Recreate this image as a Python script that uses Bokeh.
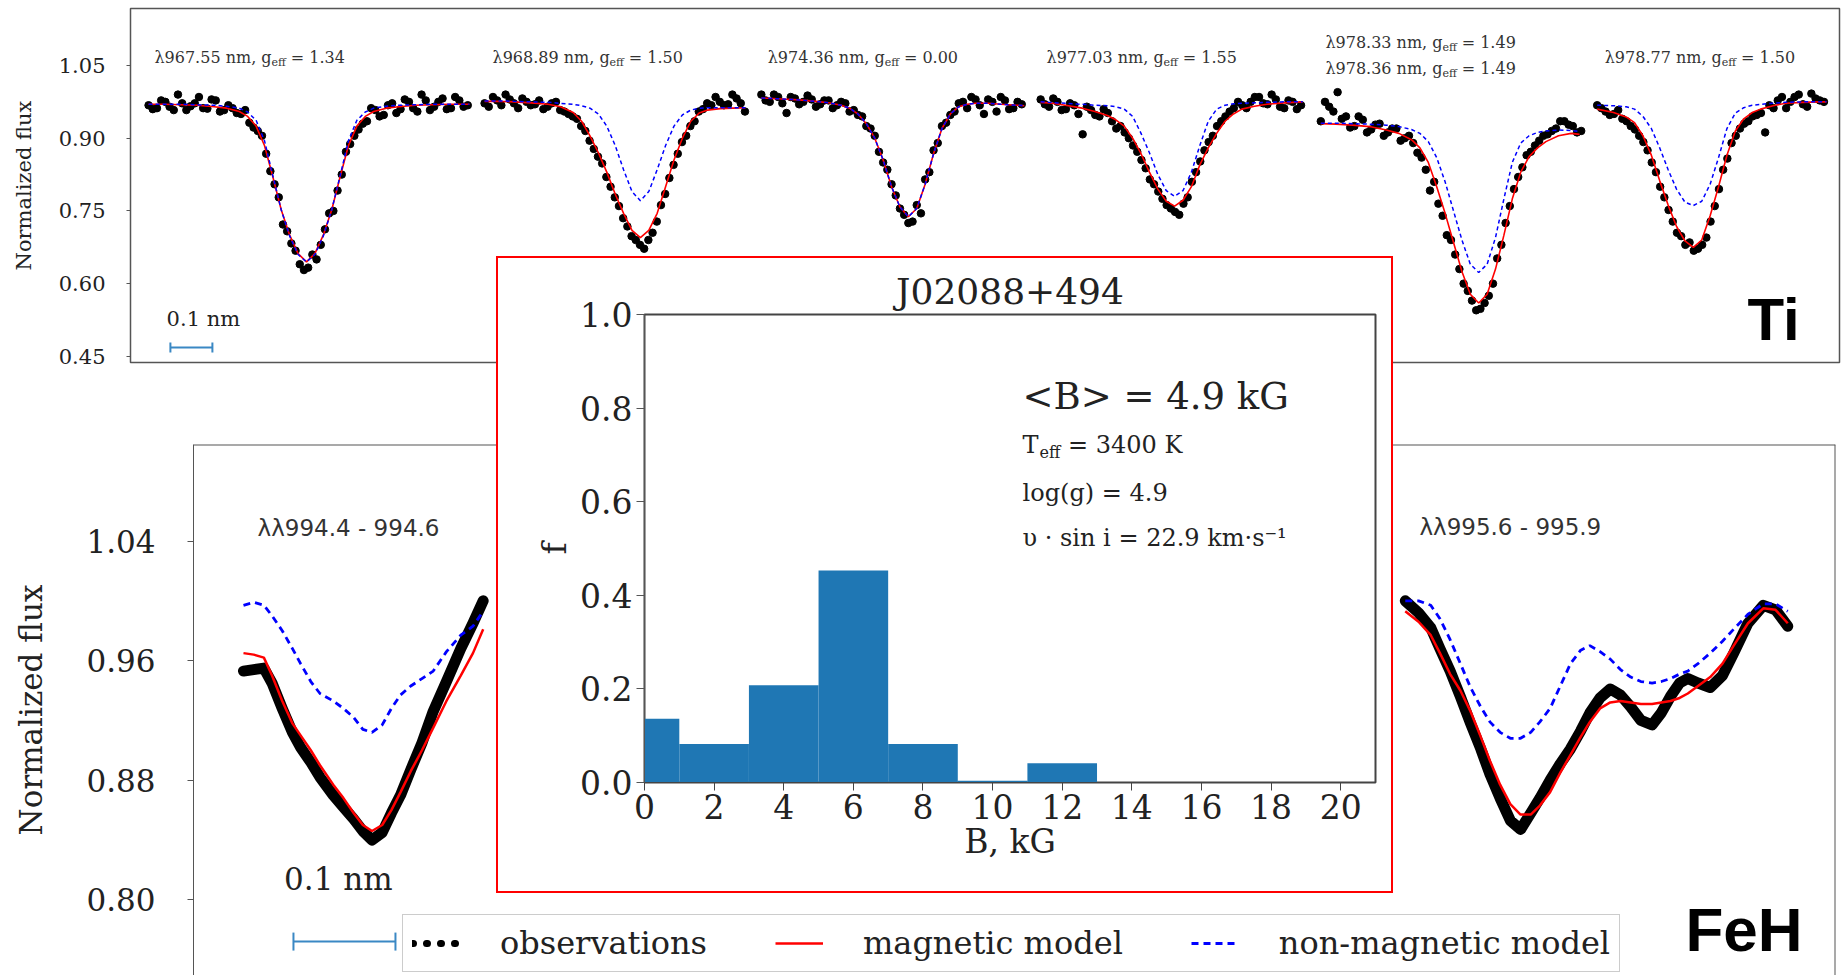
import numpy as np
from bokeh.plotting import figure
from bokeh.models import Range1d, FixedTicker, NumeralTickFormatter, Label, Legend, LegendItem, Span
from bokeh.embed import file_html
from bokeh.resources import INLINE

# ------------------------------------------------------------------ data
# --- Ti lines (top panel); offsets d are in nm from the line centre
ti_wavelength = [["967.55"], ["968.89"], ["974.36"], ["977.03"], ["978.33", "978.36"], ["978.77"]]
ti_geff = [["1.34"], ["1.50"], ["0.00"], ["1.55"], ["1.49", "1.49"], ["1.50"]]
ti_line_pos = [0.419, 1.214, 1.852, 2.486, 3.210, 3.721]   # position of each line on the concatenated axis (nm)
obs_step = 0.02   # sampling of each observed series (nm); the "b" series sit half a step later

ti_d1 = [-0.376, -0.34, -0.30, -0.26, -0.22, -0.19, -0.16, -0.14, -0.12, -0.10, -0.08, -0.06, -0.04, -0.02, 0,
         0.02, 0.04, 0.06, 0.08, 0.10, 0.12, 0.14, 0.16, 0.19, 0.22, 0.26, 0.30, 0.34, 0.388]
ti_mag1 = [0.970, 0.970, 0.969, 0.968, 0.965, 0.962, 0.955, 0.945, 0.925, 0.885, 0.820, 0.752, 0.700, 0.662, 0.645,
           0.662, 0.700, 0.752, 0.820, 0.885, 0.925, 0.945, 0.955, 0.962, 0.965, 0.968, 0.969, 0.970, 0.970]
ti_non1 = [0.970, 0.970, 0.970, 0.969, 0.968, 0.966, 0.962, 0.954, 0.937, 0.895, 0.822, 0.752, 0.698, 0.660, 0.645,
           0.660, 0.698, 0.752, 0.822, 0.895, 0.937, 0.954, 0.962, 0.966, 0.968, 0.969, 0.970, 0.970, 0.970]
ti_obs1 = [0.968, 0.962, 0.975, 0.958, 0.972, 0.966, 0.985, 0.961, 0.978, 0.958, 0.962, 0.950, 0.932, 0.915, 0.868,
           0.805, 0.722, 0.683, 0.640, 0.633, 0.650, 0.712, 0.750, 0.825, 0.888, 0.918, 0.935, 0.958, 0.948, 0.972,
           0.960, 0.975, 0.955, 0.978, 0.965, 0.982, 0.962, 0.978, 0.968]
ti_obs1b = [0.960, 0.978, 0.965, 0.990, 0.958, 0.972, 0.962, 0.980, 0.955, 0.968, 0.952, 0.958, 0.922, 0.905,
            0.832, 0.778, 0.708, 0.668, 0.628, 0.660, 0.680, 0.745, 0.792, 0.872, 0.905, 0.930, 0.962, 0.945,
            0.968, 0.952, 0.980, 0.962, 0.990, 0.958, 0.975, 0.960, 0.985, 0.965]

ti_d2 = [-0.371, -0.34, -0.30, -0.26, -0.22, -0.19, -0.16, -0.14, -0.12, -0.10, -0.08, -0.06, -0.04, -0.02, 0,
         0.02, 0.04, 0.06, 0.08, 0.10, 0.12, 0.14, 0.16, 0.19, 0.22, 0.25]
ti_mag2 = [0.976, 0.976, 0.975, 0.973, 0.970, 0.965, 0.953, 0.935, 0.905, 0.870, 0.830, 0.785, 0.745, 0.710, 0.695,
           0.710, 0.745, 0.800, 0.855, 0.900, 0.935, 0.952, 0.958, 0.961, 0.962, 0.963]
ti_non2 = [0.977, 0.977, 0.976, 0.975, 0.974, 0.972, 0.970, 0.967, 0.962, 0.950, 0.925, 0.885, 0.835, 0.790, 0.771,
           0.790, 0.835, 0.885, 0.925, 0.948, 0.958, 0.962, 0.963, 0.963, 0.963, 0.963]
ti_obs2 = [0.972, 0.985, 0.968, 0.980, 0.962, 0.975, 0.970, 0.960, 0.972, 0.958, 0.950, 0.940, 0.915, 0.878, 0.848,
           0.800, 0.760, 0.718, 0.690, 0.672, 0.705, 0.762, 0.818, 0.868, 0.905, 0.935, 0.960, 0.968, 0.975, 0.970,
           0.982, 0.955]
ti_obs2b = [0.965, 0.978, 0.990, 0.972, 0.982, 0.968, 0.978, 0.965, 0.975, 0.955, 0.945, 0.925, 0.895, 0.862,
            0.820, 0.778, 0.735, 0.698, 0.680, 0.690, 0.728, 0.785, 0.845, 0.892, 0.925, 0.955, 0.972, 0.985,
            0.968, 0.990, 0.972]

ti_d3 = [-0.35, -0.30, -0.26, -0.22, -0.19, -0.16, -0.14, -0.12, -0.10, -0.08, -0.06, -0.04, -0.02, 0,
         0.02, 0.04, 0.06, 0.08, 0.10, 0.12, 0.14, 0.16, 0.19, 0.22, 0.26, 0.276]
ti_mag3 = [0.983, 0.981, 0.979, 0.976, 0.973, 0.968, 0.962, 0.950, 0.930, 0.900, 0.855, 0.800, 0.758, 0.738,
           0.755, 0.805, 0.868, 0.920, 0.950, 0.965, 0.970, 0.972, 0.972, 0.970, 0.968, 0.967]
ti_non3 = [0.983, 0.981, 0.979, 0.976, 0.973, 0.968, 0.962, 0.950, 0.930, 0.900, 0.855, 0.800, 0.758, 0.738,
           0.755, 0.805, 0.868, 0.920, 0.950, 0.965, 0.970, 0.972, 0.972, 0.970, 0.968, 0.967]
ti_obs3 = [0.990, 0.975, 0.985, 0.952, 0.982, 0.975, 0.980, 0.970, 0.978, 0.968, 0.972, 0.958, 0.945, 0.920, 0.872,
           0.835, 0.782, 0.742, 0.728, 0.745, 0.830, 0.890, 0.932, 0.955, 0.975, 0.985, 0.968, 0.980, 0.955, 0.978,
           0.962, 0.970]
ti_obs3b = [0.978, 0.990, 0.972, 0.985, 0.970, 0.988, 0.965, 0.978, 0.962, 0.975, 0.955, 0.948, 0.925, 0.905,
            0.850, 0.805, 0.755, 0.725, 0.762, 0.815, 0.875, 0.925, 0.948, 0.972, 0.962, 0.980, 0.950, 0.975,
            0.985, 0.960, 0.975]

ti_d4 = [-0.319, -0.30, -0.26, -0.22, -0.19, -0.16, -0.14, -0.12, -0.10, -0.08, -0.06, -0.04, -0.02, 0,
         0.02, 0.04, 0.06, 0.08, 0.10, 0.12, 0.14, 0.16, 0.19, 0.22, 0.26, 0.305]
ti_mag4 = [0.974, 0.973, 0.968, 0.962, 0.955, 0.947, 0.938, 0.925, 0.900, 0.868, 0.830, 0.795, 0.770, 0.760,
           0.772, 0.800, 0.845, 0.880, 0.910, 0.935, 0.950, 0.960, 0.966, 0.970, 0.973, 0.975]
ti_non4 = [0.975, 0.974, 0.972, 0.970, 0.968, 0.967, 0.965, 0.960, 0.945, 0.910, 0.870, 0.825, 0.792, 0.780,
           0.792, 0.830, 0.885, 0.935, 0.960, 0.968, 0.971, 0.972, 0.973, 0.974, 0.975, 0.975]
ti_obs4 = [0.980, 0.965, 0.975, 0.960, 0.968, 0.908, 0.958, 0.945, 0.952, 0.920, 0.912, 0.885, 0.855, 0.815, 0.790,
           0.762, 0.748, 0.765, 0.810, 0.852, 0.892, 0.925, 0.945, 0.962, 0.968, 0.975, 0.985, 0.970, 0.980, 0.962,
           0.975, 0.968]
ti_obs4b = [0.970, 0.982, 0.958, 0.972, 0.950, 0.965, 0.948, 0.960, 0.935, 0.925, 0.900, 0.872, 0.838, 0.805,
            0.775, 0.755, 0.742, 0.778, 0.830, 0.875, 0.905, 0.935, 0.955, 0.975, 0.962, 0.985, 0.972, 0.990,
            0.965, 0.978, 0.960]

ti_d5 = [-0.376, -0.34, -0.30, -0.26, -0.22, -0.19, -0.16, -0.14, -0.12, -0.10, -0.08, -0.06, -0.04, -0.02, 0,
         0.02, 0.04, 0.06, 0.08, 0.10, 0.12, 0.14, 0.16, 0.19, 0.22, 0.24]
ti_mag5 = [0.930, 0.929, 0.927, 0.924, 0.917, 0.910, 0.897, 0.880, 0.850, 0.800, 0.745, 0.685, 0.625, 0.578, 0.560,
           0.578, 0.630, 0.700, 0.775, 0.830, 0.862, 0.880, 0.893, 0.905, 0.910, 0.908]
ti_non5 = [0.931, 0.931, 0.930, 0.929, 0.927, 0.924, 0.918, 0.910, 0.893, 0.860, 0.810, 0.750, 0.690, 0.640, 0.623,
           0.640, 0.695, 0.775, 0.850, 0.890, 0.905, 0.912, 0.915, 0.917, 0.916, 0.914]
ti_obs5 = [0.935, 0.965, 0.995, 0.945, 0.925, 0.938, 0.918, 0.930, 0.912, 0.920, 0.900, 0.890, 0.860, 0.792, 0.765,
           0.700, 0.660, 0.600, 0.565, 0.548, 0.575, 0.652, 0.725, 0.795, 0.840, 0.872, 0.895, 0.908, 0.920, 0.935,
           0.925, 0.915]
ti_obs5b = [0.975, 0.955, 0.940, 0.922, 0.945, 0.912, 0.928, 0.905, 0.920, 0.895, 0.905, 0.870, 0.835, 0.810,
            0.740, 0.690, 0.630, 0.585, 0.545, 0.560, 0.600, 0.680, 0.760, 0.820, 0.865, 0.885, 0.905, 0.915,
            0.935, 0.928, 0.912]

ti_d6 = [-0.229, -0.19, -0.16, -0.14, -0.12, -0.10, -0.08, -0.06, -0.04, -0.02, 0,
         0.02, 0.04, 0.06, 0.08, 0.10, 0.12, 0.14, 0.16, 0.19, 0.22, 0.26, 0.30, 0.317]
ti_mag6 = [0.960, 0.953, 0.944, 0.932, 0.905, 0.865, 0.812, 0.762, 0.718, 0.688, 0.675,
           0.690, 0.740, 0.800, 0.865, 0.915, 0.940, 0.953, 0.960, 0.967, 0.972, 0.974, 0.975, 0.975]
ti_non6 = [0.968, 0.967, 0.965, 0.960, 0.945, 0.920, 0.880, 0.835, 0.795, 0.768, 0.761,
           0.770, 0.805, 0.860, 0.920, 0.952, 0.963, 0.968, 0.970, 0.972, 0.974, 0.975, 0.975, 0.975]
ti_obs6 = [0.968, 0.955, 0.950, 0.940, 0.925, 0.905, 0.875, 0.830, 0.778, 0.728, 0.698, 0.685, 0.672, 0.695, 0.760,
           0.835, 0.890, 0.920, 0.935, 0.948, 0.912, 0.962, 0.985, 0.975, 0.990, 0.965, 0.982, 0.975]
ti_obs6b = [0.962, 0.948, 0.958, 0.935, 0.918, 0.892, 0.850, 0.800, 0.752, 0.705, 0.680, 0.668, 0.680, 0.728,
            0.795, 0.858, 0.905, 0.930, 0.945, 0.952, 0.968, 0.978, 0.962, 0.985, 0.970, 0.992, 0.978]

ti_d = [ti_d1, ti_d2, ti_d3, ti_d4, ti_d5, ti_d6]
ti_mag = [ti_mag1, ti_mag2, ti_mag3, ti_mag4, ti_mag5, ti_mag6]
ti_non = [ti_non1, ti_non2, ti_non3, ti_non4, ti_non5, ti_non6]
ti_obs = [ti_obs1, ti_obs2, ti_obs3, ti_obs4, ti_obs5, ti_obs6]
ti_obs_b = [ti_obs1b, ti_obs2b, ti_obs3b, ti_obs4b, ti_obs5b, ti_obs6b]

# --- FeH bands (bottom panel); dl in nm from the first sample of each band
feh_ranges = ["λλ994.4 - 994.6", "λλ995.6 - 995.9"]
feh_pos = [0.049, 1.188]
feh_dl1 = [0, 0.010, 0.020, 0.028, 0.038, 0.048, 0.056, 0.066, 0.075, 0.088, 0.098, 0.108, 0.117, 0.126, 0.136,
           0.145, 0.154, 0.164, 0.175, 0.186, 0.199, 0.213, 0.225, 0.235]
feh_obs1 = [0.953, 0.954, 0.955, 0.945, 0.928, 0.912, 0.902, 0.892, 0.882, 0.870, 0.862, 0.854, 0.846, 0.840, 0.845,
            0.858, 0.870, 0.887, 0.905, 0.926, 0.946, 0.968, 0.985, 1.000]
feh_mag1 = [0.965, 0.964, 0.962, 0.950, 0.933, 0.918, 0.910, 0.900, 0.890, 0.877, 0.868, 0.858, 0.850, 0.846, 0.850,
            0.860, 0.872, 0.886, 0.900, 0.915, 0.933, 0.950, 0.965, 0.981]
feh_non1 = [0.997, 0.999, 0.997, 0.990, 0.980, 0.968, 0.958, 0.946, 0.938, 0.933, 0.928, 0.922, 0.914, 0.912, 0.917,
            0.928, 0.937, 0.943, 0.948, 0.953, 0.966, 0.977, 0.983, 0.993]
feh_dl2 = [0, 0.013, 0.025, 0.034, 0.044, 0.054, 0.064, 0.074, 0.083, 0.093, 0.103, 0.113, 0.123, 0.132, 0.142,
           0.152, 0.162, 0.172, 0.181, 0.191, 0.201, 0.211, 0.221, 0.231, 0.242, 0.251, 0.260, 0.269, 0.277, 0.287,
           0.299, 0.311, 0.322, 0.336, 0.351, 0.363, 0.375]
feh_obs2 = [1.000, 0.992, 0.982, 0.968, 0.953, 0.936, 0.918, 0.901, 0.884, 0.868, 0.853, 0.847, 0.858, 0.868, 0.880,
            0.891, 0.901, 0.913, 0.925, 0.935, 0.941, 0.937, 0.929, 0.920, 0.917, 0.925, 0.936, 0.945, 0.948, 0.945,
            0.942, 0.950, 0.965, 0.985, 0.997, 0.994, 0.983]
feh_mag2 = [0.993, 0.986, 0.977, 0.965, 0.951, 0.940, 0.926, 0.909, 0.893, 0.877, 0.864, 0.857, 0.857, 0.863, 0.872,
            0.885, 0.897, 0.909, 0.919, 0.928, 0.932, 0.933, 0.932, 0.931, 0.931, 0.932, 0.933, 0.935, 0.938, 0.943,
            0.949, 0.958, 0.970, 0.985, 0.995, 0.994, 0.985]
feh_non2 = [1.000, 1.000, 0.997, 0.988, 0.974, 0.958, 0.942, 0.929, 0.919, 0.912, 0.908, 0.908, 0.912, 0.919, 0.928,
            0.943, 0.958, 0.967, 0.970, 0.966, 0.961, 0.954, 0.949, 0.946, 0.945, 0.946, 0.948, 0.951, 0.953, 0.958,
            0.965, 0.973, 0.981, 0.991, 0.998, 0.998, 0.993]
feh_dl = [feh_dl1, feh_dl2]
feh_obs = [feh_obs1, feh_obs2]
feh_mag = [feh_mag1, feh_mag2]
feh_non = [feh_non1, feh_non2]

# --- inset: distribution of magnetic field strength
star_name = "J02088+494"
b_bins = [0, 2, 4, 6, 8, 10, 12, 14, 16, 18, 20]
b_fill = [0.136, 0.082, 0.208, 0.453, 0.082, 0.004, 0.041, 0.0, 0.0, 0.0, 0.0]
b_bin_width = 2
mean_b = "4.9"
teff = "3400"
logg = "4.9"
vsini = "22.9"
scale_nm = 0.1

# ------------------------------------------------------------------ helpers
SERIF = "DejaVu Serif"
EM = {" ": 0.318, ".": 0.318, ",": 0.318, "=": 0.838, "λ": 0.60, "n": 0.644, "m": 0.948,
      "g": 0.640, "T": 0.687, "e": 0.592, "f": 0.370}


def text_w(s, size):
    return sum(EM.get(c, 0.636) for c in s) * size


def sub_label(fig, x, y, main, sub, rest, size, sub_size, color="#333333"):
    w1 = text_w(main, size)
    w2 = text_w(sub, sub_size) + text_w(" ", size)
    common = dict(text_font=SERIF, text_color=color, text_baseline="middle", text_align="left")
    fig.add_layout(Label(x=x, y=y, text=main, text_font_size=f"{size}px", **common))
    fig.add_layout(Label(x=x, y=y, x_offset=w1 + 0.5, y_offset=-0.32 * size, text=sub,
                         text_font_size=f"{sub_size}px", **common))
    fig.add_layout(Label(x=x, y=y, x_offset=w1 + w2, text=rest, text_font_size=f"{size}px", **common))


def style_y_axis(fig, ticks, fmt, size, label, label_size, tick_out, standoff, label_standoff):
    ax = fig.yaxis[0]
    ax.ticker = FixedTicker(ticks=ticks)
    ax.formatter = NumeralTickFormatter(format=fmt)
    ax.major_label_text_font = SERIF
    ax.major_label_text_font_size = f"{size}px"
    ax.major_label_text_color = "#222222"
    ax.axis_label = label
    ax.axis_label_text_font = SERIF
    ax.axis_label_text_font_size = f"{label_size}px"
    ax.axis_label_text_font_style = "normal"
    ax.axis_label_text_color = "#222222"
    ax.axis_label_standoff = label_standoff
    ax.major_tick_out = tick_out
    ax.major_tick_in = 0
    ax.minor_tick_out = 0
    ax.minor_tick_in = 0
    ax.major_label_standoff = standoff
    ax.axis_line_color = "#555555"
    ax.major_tick_line_color = "#555555"


# ------------------------------------------------------------------ top panel (Ti)
TOP_Y = (0.4373, 1.1676)
top = figure(width=1845, height=372, x_range=Range1d(0, 4.069), y_range=Range1d(*TOP_Y),
             output_backend="svg", toolbar_location=None, x_axis_location=None,
             min_border_left=130, min_border_right=6, min_border_top=8, min_border_bottom=10,
             styles={"position": "absolute", "left": "0px", "top": "0px"})
top.xgrid.visible = False
top.ygrid.visible = False
top.outline_line_color = "#555555"
top.outline_line_width = 1.5
top.background_fill_color = "white"
top.border_fill_color = "white"
style_y_axis(top, [0.45, 0.60, 0.75, 0.90, 1.05], "0.00", 21, "Normalized flux", 21, 4, 21, 20)

for k in range(6):
    d = np.array(ti_d[k])
    pos = ti_line_pos[k]
    obs = np.array(ti_obs[k])
    obs_b = np.array(ti_obs_b[k])
    x_obs = pos + d[0] + obs_step * np.arange(len(obs))
    x_obs_b = pos + d[0] + obs_step / 2 + obs_step * np.arange(len(obs_b))
    top.scatter(np.concatenate([x_obs, x_obs_b]), np.concatenate([obs, obs_b]), size=7.5, color="black")
    top.line(pos + d, ti_mag[k], color="red", line_width=1.6)
    top.line(pos + d, ti_non[k], color="blue", line_width=1.5, line_dash="4 3")

label_x = [0.057, 0.862, 1.517, 2.181, 2.845, 3.51]
for k in range(6):
    ys = [1.0665] if len(ti_wavelength[k]) == 1 else [1.0974, 1.0438]
    for wl, g, yy in zip(ti_wavelength[k], ti_geff[k], ys):
        sub_label(top, label_x[k], yy, f"λ{wl} nm, g", "eff", f"= {g}", 16, 11)

# scale bar 0.1 nm
top.segment(x0=[0.095], y0=[0.468], x1=[0.095 + scale_nm], y1=[0.468], color="#3a88c4", line_width=2)
top.scatter([0.095, 0.095 + scale_nm], [0.468, 0.468], marker="dash", angle=np.pi / 2, size=10,
            line_color="#3a88c4", line_width=2)
top.add_layout(Label(x=0.086, y=0.528, text="0.1 nm", text_font=SERIF, text_font_size="21px",
                     text_baseline="middle", text_color="#222222"))
top.add_layout(Label(x=3.85, y=0.527, text="Ti", text_font="Liberation Sans", text_font_size="60px",
                     text_font_style="bold", text_baseline="middle", text_color="black"))

# ------------------------------------------------------------------ bottom panel (FeH)
BOT_Y = (0.7493, 1.1046)
bot = figure(width=1845, height=545, x_range=Range1d(0, 1.6098), y_range=Range1d(*BOT_Y),
             output_backend="svg", toolbar_location=None, x_axis_location=None,
             min_border_left=193, min_border_right=10, min_border_top=14, min_border_bottom=0,
             styles={"position": "absolute", "left": "0px", "top": "430px"})
bot.xgrid.visible = False
bot.ygrid.visible = False
bot.outline_line_color = None
bot.background_fill_color = "white"
bot.border_fill_color = "white"
style_y_axis(bot, [0.80, 0.88, 0.96, 1.04], "0.00", 31, "Normalized flux", 31, 6, 32, 34)
bot.add_layout(Span(location=BOT_Y[1], dimension="width", line_color="#555555", line_width=2))
bot.add_layout(Span(location=1.6098, dimension="height", line_color="#555555", line_width=2))

mag_r = non_r = None
for k in range(2):
    x = feh_pos[k] + np.array(feh_dl[k])
    bot.line(x, feh_obs[k], color="black", line_width=11, line_cap="round", line_join="round")
    mag_r = bot.line(x, feh_mag[k], color="red", line_width=2.5)
    non_r = bot.line(x, feh_non[k], color="blue", line_width=2.8, line_dash="7 5")

bot.add_layout(Label(x=0.152, y=1.049, text=feh_ranges[0], text_font="DejaVu Sans", text_font_size="23px",
                     text_align="center", text_baseline="middle", text_color="#333333"))
bot.add_layout(Label(x=1.291, y=1.0497, text=feh_ranges[1], text_font="DejaVu Sans", text_font_size="23px",
                     text_align="center", text_baseline="middle", text_color="#333333"))
bot.segment(x0=[0.098], y0=[0.772], x1=[0.098 + scale_nm], y1=[0.772], color="#3a88c4", line_width=2)
bot.scatter([0.098, 0.098 + scale_nm], [0.772, 0.772], marker="dash", angle=np.pi / 2, size=18,
            line_color="#3a88c4", line_width=2)
bot.add_layout(Label(x=0.142, y=0.8142, text="0.1 nm", text_font=SERIF, text_font_size="31px",
                     text_align="center", text_baseline="middle", text_color="#222222"))
bot.add_layout(Label(x=1.4627, y=0.7804, text="FeH", text_font="Liberation Sans", text_font_size="62px",
                     text_font_style="bold", text_baseline="middle", text_color="black"))

# legend-only renderer for the dotted "observations" symbol (a single sample: draws nothing in the plot)
obs_proxy = bot.line(feh_pos[0] + np.array(feh_dl1[:1]), feh_obs1[:1], color="black", line_width=7,
                     line_dash="1 13", line_cap="round")
legend = Legend(items=[LegendItem(label="observations", renderers=[obs_proxy]),
                       LegendItem(label="magnetic model", renderers=[mag_r]),
                       LegendItem(label="non-magnetic model", renderers=[non_r])],
                location=(209, 3), orientation="horizontal",
                label_text_font=SERIF, label_text_font_size="32px", label_text_color="#222222",
                glyph_width=48, glyph_height=24, label_standoff=40, spacing=68, padding=9, margin=0,
                border_line_color="#9a9a9a", border_line_width=1.5, background_fill_alpha=1.0)
bot.add_layout(legend, "center")

# ------------------------------------------------------------------ inset (B distribution)
ins = figure(width=897, height=637, x_range=Range1d(0, 21), y_range=Range1d(0, 1),
             output_backend="svg", toolbar_location=None, title=star_name,
             min_border_left=146, min_border_right=20, min_border_top=56, min_border_bottom=113,
             styles={"position": "absolute", "left": "496px", "top": "256px",
                     "border": "2px solid red", "z-index": "10", "background-color": "white"})
ins.xgrid.visible = False
ins.ygrid.visible = False
ins.outline_line_color = "#444444"
ins.outline_line_width = 2
ins.background_fill_color = "white"
ins.border_fill_color = "white"
ins.title.text_font = SERIF
ins.title.text_font_size = "36px"
ins.title.text_font_style = "normal"
ins.title.text_color = "#222222"
ins.title.align = "center"
ins.title.standoff = 6

ins.vbar(x=b_bins, top=b_fill, width=b_bin_width, fill_color="#1f77b4", line_color=None)

style_y_axis(ins, [0.0, 0.2, 0.4, 0.6, 0.8, 1.0], "0.0", 33, "f", 33, 8, 4, 3)
xa = ins.xaxis[0]
xa.ticker = FixedTicker(ticks=b_bins)
xa.formatter = NumeralTickFormatter(format="0")
xa.major_label_text_font = SERIF
xa.major_label_text_font_size = "33px"
xa.major_label_text_color = "#222222"
xa.axis_label = "B, kG"
xa.axis_label_text_font = SERIF
xa.axis_label_text_font_size = "33px"
xa.axis_label_text_font_style = "normal"
xa.axis_label_text_color = "#222222"
xa.axis_label_standoff = 0
xa.major_tick_out = 8
xa.major_tick_in = 0
xa.minor_tick_out = 0
xa.minor_tick_in = 0
xa.major_label_standoff = 3
xa.axis_line_color = "#444444"
xa.major_tick_line_color = "#444444"

ANN_X = 10.86
ins.add_layout(Label(x=ANN_X, y=0.825, text=f"<B> = {mean_b} kG", text_font=SERIF, text_font_size="37px",
                     text_baseline="middle", text_color="#222222"))
sub_label(ins, ANN_X, 0.722, "T", "eff", f"= {teff} K", 24, 16, color="#222222")
ins.add_layout(Label(x=ANN_X, y=0.618, text=f"log(g) = {logg}", text_font=SERIF, text_font_size="24px",
                     text_baseline="middle", text_color="#222222"))
ins.add_layout(Label(x=ANN_X, y=0.523, text=f"υ · sin i = {vsini} km·s⁻¹", text_font=SERIF,
                     text_font_size="24px", text_baseline="middle", text_color="#222222"))

open("out.html", "w").write(file_html([top, bot, ins], INLINE))
